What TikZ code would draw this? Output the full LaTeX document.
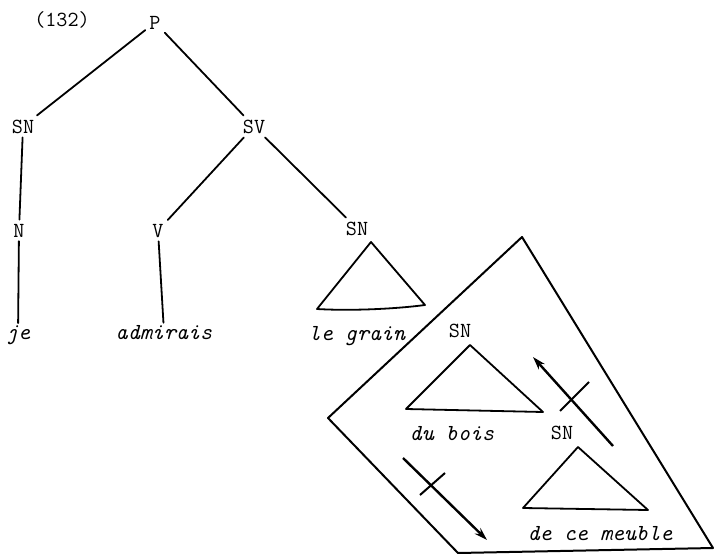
\documentclass[tikz,border=0pt]{standalone}
\usetikzlibrary{arrows.meta}
\begin{document}
\begin{tikzpicture}[x=1pt,y=-1pt,
  lab/.style={font=\ttfamily\fontsize{21.5}{22}\selectfont, anchor=base, inner sep=4pt},
  word/.style={font=\ttfamily\itshape\fontsize{23}{24}\selectfont, anchor=base, inner sep=2pt},
  edge/.style={line width=1.8pt, line cap=round},
  tri/.style={line width=1.8pt, line join=round},
  arr/.style={line width=2.4pt, -{Stealth[length=13pt,width=8pt]}},
  bar/.style={line width=2pt}]
\useasboundingbox (0,0) rectangle (715,554);
% labels
\node[lab] (num) at (62,27) {(132)};
\node[lab] (P) at (155,29) {P};
\node[lab] (SNa) at (23,133) {SN};
\node[lab] (SV) at (254,133) {SV};
\node[lab] (N) at (19,237) {N};
\node[lab] (V) at (158,237) {V};
\node[lab] (SNb) at (357,235) {SN};
\node[lab] (SNc) at (460,337) {SN};
\node[lab] (SNd) at (562,439) {SN};
% words
\node[word] (je) at (18,339) {je};
\node[word] (adm) at (164,339) {admirais};
\node[word] (grain) at (357,340) {le grain};
\node[word] (bois) at (452,440) {du bois};
\node[word] (meuble) at (600,540) {de ce meuble};
% tree edges
\draw[edge] (P) -- (SNa);
\draw[edge] (P) -- (SV);
\draw[edge] (SNa) -- (N);
\draw[edge] (SV) -- (V);
\draw[edge] (SV) -- (SNb);
\draw[edge] (N) -- (je);
\draw[edge] (V) -- (adm);
% triangles
\draw[tri] (371,242) -- (317,309) .. controls (350,311) and (395,309) .. (425,305) -- cycle;
\draw[tri] (470,345) -- (406,409) -- (543,412) -- cycle;
\draw[tri] (578,447) -- (523,508) -- (648,510) -- cycle;
% enclosing polygon
\draw[line width=2pt, line join=round] (522,237) -- (713,548) -- (458,553) -- (328,418) -- cycle;
% arrows
\coordinate (upA) at (613,446);
\coordinate (upB) at (533,357);
\coordinate (dnA) at (403,458);
\coordinate (dnB) at (487,540);
\draw[arr] (upA) -- (upB);
\draw[arr] (dnA) -- (dnB);
% crossing bars
\coordinate (xa1) at (560,411);
\coordinate (xa2) at (589,382);
\coordinate (xb1) at (420,495);
\coordinate (xb2) at (445,473);
\draw[bar] (xa1) -- (xa2);
\draw[bar] (xb1) -- (xb2);
\end{tikzpicture}
\end{document}
